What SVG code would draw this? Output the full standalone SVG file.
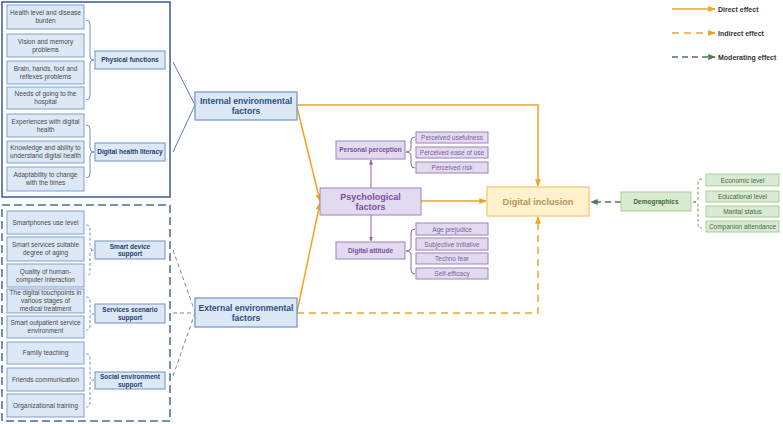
<svg xmlns="http://www.w3.org/2000/svg" width="783" height="424" viewBox="0 0 783 424">
<defs>
<marker id="ao" viewBox="0 0 10 10" refX="9" refY="5" markerWidth="5" markerHeight="5" orient="auto-start-reverse"><path d="M0 1 L10 5 L0 9 z" fill="#f5a21d"/></marker>
<marker id="ap" viewBox="0 0 10 10" refX="9" refY="5" markerWidth="5" markerHeight="5" orient="auto-start-reverse"><path d="M0 1 L10 5 L0 9 z" fill="#8a64aa"/></marker>
<marker id="ag" viewBox="0 0 10 10" refX="9" refY="5" markerWidth="5" markerHeight="5" orient="auto-start-reverse"><path d="M0 1 L10 5 L0 9 z" fill="#4f7a4f"/></marker>
</defs>
<style>
text{font-family:"Liberation Sans",Arial,sans-serif;text-anchor:middle}
.leaf{fill:#dce8f5;stroke:#7f9fcf;stroke-width:1}
.lt{font-size:6.5px;fill:#4a4a4a}
.cat{fill:#dce8f5;stroke:#6f93c8;stroke-width:1}
.ct{font-size:6.5px;font-weight:bold;fill:#1f3f6e}
.main{fill:#dce8f5;stroke:#6f93c8;stroke-width:1.2}
.mt{font-size:8.6px;font-weight:bold;fill:#2f4f7f}
.pbox{fill:#e2daef;stroke:#9c82bf;stroke-width:1}
.pt{font-size:6.5px;font-weight:bold;fill:#7b4fa0}
.pl{font-size:6.5px;fill:#7b5fa0}
.gbox{fill:#d9ead3;stroke:#a9cf96;stroke-width:1}
.gt{font-size:6.5px;fill:#4a6b40}
.brb{fill:none;stroke:#6f93c8;stroke-width:1}
.brbd{fill:none;stroke:#6f93c8;stroke-width:1;stroke-dasharray:3 2}
.brp{fill:none;stroke:#8a64aa;stroke-width:1}
.brg{fill:none;stroke:#6a9a5a;stroke-width:1;stroke-dasharray:3 2}
.or{fill:none;stroke:#f5a21d;stroke-width:1.5}
.ord{fill:none;stroke:#f5a21d;stroke-width:1.5;stroke-dasharray:7 5}
.bl{fill:none;stroke:#5b7bb8;stroke-width:1}
.bld{fill:none;stroke:#6f88b8;stroke-width:1;stroke-dasharray:4 3}
.lg{font-size:7px;font-weight:bold;fill:#333;text-anchor:start}
</style>
<rect x="2" y="2" width="168" height="195" fill="none" stroke="#3b5a9a" stroke-width="1.5"/>
<rect x="2" y="205" width="168" height="216" fill="none" stroke="#4a6aa8" stroke-width="1.5" stroke-dasharray="8 4"/>
<g id="connectors">
<path class="brb" d="M86 20 Q90 20 90 24 L90 56 Q90 60 94 60 Q90 60 90 64 L90 96 Q90 100 86 100"/>
<path class="brb" d="M86 125 Q90 125 90 129 L90 148 Q90 152 94 152 Q90 152 90 156 L90 174 Q90 178 86 178"/>
<path class="brbd" d="M86 225 Q90 225 90 229 L90 246 Q90 250 94 250 Q90 250 90 254 L90 272 Q90 276 86 276"/>
<path class="brbd" d="M86 297 Q90 297 90 301 L90 310 Q90 314 94 314 Q90 314 90 318 L90 326 Q90 330 86 330"/>
<path class="brbd" d="M86 354 Q90 354 90 358 L90 376 Q90 380 94 380 Q90 380 90 384 L90 403 Q90 407 86 407"/>
<path class="bl" d="M173 62 L195 105 M173 152 L195 105"/>
<path class="bld" d="M173 250 L195 312 M173 313 H195 M173 376 L195 313"/>
<path class="or" d="M297 105 H538 V186" marker-end="url(#ao)"/>
<path class="or" d="M297 107 L320 201" marker-end="url(#ao)"/>
<path class="or" d="M297 312 L320 203" marker-end="url(#ao)"/>
<path class="or" d="M421 201 H486" marker-end="url(#ao)"/>
<path class="ord" d="M297 313 H538 V217" marker-end="url(#ao)"/>
<path fill="none" stroke="#4f7a4f" stroke-width="1.5" stroke-dasharray="6 4" d="M621 202 H591" marker-end="url(#ag)"/>
<path class="brp" d="M371 188 V160" marker-end="url(#ap)"/>
<path class="brp" d="M371 215 V241" marker-end="url(#ap)"/>
<path class="brp" d="M415 137 Q411 137 411 141 L411 148 Q411 152 406 152 Q411 152 411 156 L411 164 Q411 168 415 168"/>
<path class="brp" d="M415 229 Q411 229 411 233 L411 247 Q411 251 406 251 Q411 251 411 255 L411 270 Q411 274 415 274"/>
<path class="brg" d="M702 179 Q698 179 698 183 L698 198 Q698 202 692 202 Q698 202 698 206 L698 224 Q698 228 702 228"/>
<path class="or" d="M672 9 H715" marker-end="url(#ao)"/>
<path class="ord" d="M672 33 H715" marker-end="url(#ao)"/>
<path fill="none" stroke="#4f7a4f" stroke-width="1.5" stroke-dasharray="6 4" d="M672 57 H715" marker-end="url(#ag)"/>
</g>
<g id="legend">
<text class="lg" x="718" y="12">Direct effect</text>
<text class="lg" x="718" y="36">Indirect effect</text>
<text class="lg" x="718" y="60">Moderating effect</text>
</g>
<g id="n1"><rect class="leaf" x="7" y="5" width="77" height="24"/><text class="lt" x="45.5" y="15.2">Health level and disease</text><text class="lt" x="45.5" y="23.2">burden</text></g>
<g id="n2"><rect class="leaf" x="7" y="34" width="77" height="23"/><text class="lt" x="45.5" y="43.7">Vision and memory</text><text class="lt" x="45.5" y="51.7">problems</text></g>
<g id="n3"><rect class="leaf" x="7" y="61" width="77" height="23"/><text class="lt" x="45.5" y="70.7">Brain, hands, foot and</text><text class="lt" x="45.5" y="78.7">reflexes problems</text></g>
<g id="n4"><rect class="leaf" x="7" y="87" width="77" height="22"/><text class="lt" x="45.5" y="96.2">Needs of going to the</text><text class="lt" x="45.5" y="104.2">hospital</text></g>
<g id="n5"><rect class="leaf" x="7" y="114" width="77" height="23"/><text class="lt" x="45.5" y="123.7">Experiences with digital</text><text class="lt" x="45.5" y="131.7">health</text></g>
<g id="n6"><rect class="leaf" x="7" y="141" width="77" height="22"/><text class="lt" x="45.5" y="150.2">Knowledge and ability to</text><text class="lt" x="45.5" y="158.2">understand digital health</text></g>
<g id="n7"><rect class="leaf" x="7" y="167" width="77" height="24"/><text class="lt" x="45.5" y="177.2">Adaptability to change</text><text class="lt" x="45.5" y="185.2">with the times</text></g>
<g id="n8"><rect class="leaf" x="7" y="211" width="77" height="23"/><text class="lt" x="45.5" y="224.8">Smartphones use level</text></g>
<g id="n9"><rect class="leaf" x="7" y="237" width="77" height="24"/><text class="lt" x="45.5" y="247.2">Smart services suitable</text><text class="lt" x="45.5" y="255.2">degree of aging</text></g>
<g id="n10"><rect class="leaf" x="7" y="264" width="77" height="23"/><text class="lt" x="45.5" y="273.7">Quality of human-</text><text class="lt" x="45.5" y="281.7">computer interaction</text></g>
<g id="n11"><rect class="leaf" x="7" y="289" width="77" height="24"/><text class="lt" x="45.5" y="295.3">The digital touchpoints in</text><text class="lt" x="45.5" y="303.3">various stages of</text><text class="lt" x="45.5" y="311.3">medical treatment</text></g>
<g id="n12"><rect class="leaf" x="7" y="316" width="77" height="22"/><text class="lt" x="45.5" y="325.2">Smart outpatient service</text><text class="lt" x="45.5" y="333.2">environment</text></g>
<g id="n13"><rect class="leaf" x="7" y="342" width="77" height="22"/><text class="lt" x="45.5" y="355.3">Family teaching</text></g>
<g id="n14"><rect class="leaf" x="7" y="368" width="77" height="23"/><text class="lt" x="45.5" y="381.8">Friends communication</text></g>
<g id="n15"><rect class="leaf" x="7" y="394" width="77" height="23"/><text class="lt" x="45.5" y="407.8">Organizational training</text></g>
<g id="c1"><rect class="cat" x="95" y="51" width="70" height="18"/><text class="ct" x="130" y="62.3">Physical functions</text></g>
<g id="c2"><rect class="cat" x="95" y="143" width="70" height="18"/><text class="ct" x="130" y="154.3">Digital health literacy</text></g>
<g id="c3"><rect class="cat" x="95" y="241" width="70" height="18"/><text class="ct" x="130" y="248.5">Smart device</text><text class="ct" x="130" y="256.3">support</text></g>
<g id="c4"><rect class="cat" x="95" y="304" width="70" height="19"/><text class="ct" x="130" y="311.7">Services scenario</text><text class="ct" x="130" y="319.7">support</text></g>
<g id="c5"><rect class="cat" x="95" y="372" width="70" height="17"/><text class="ct" x="130" y="378.7">Social environment</text><text class="ct" x="130" y="386.7">support</text></g>
<g id="internal"><rect class="main" x="195" y="92" width="102" height="28"/><text class="mt" x="246" y="104.2">Internal environmental</text><text class="mt" x="246" y="114.2">factors</text></g>
<g id="external"><rect class="main" x="195" y="298" width="102" height="29"/><text class="mt" x="246" y="311.2">External environmental</text><text class="mt" x="246" y="321.2">factors</text></g>
<g id="psych"><rect class="pbox" x="320" y="188" width="101" height="27" stroke-width="1.2"/><text x="370.5" y="199.8" font-size="9" font-weight="bold" fill="#7b4fa0">Psychological</text><text x="370.5" y="210.2" font-size="9" font-weight="bold" fill="#7b4fa0">factors</text></g>
<g id="perception"><rect class="pbox" x="336" y="141" width="69" height="18"/><text class="pt" x="370.5" y="152.3">Personal perception</text></g>
<g id="attitude"><rect class="pbox" x="336" y="242" width="69" height="17"/><text class="pt" x="370.5" y="252.8">Digital attitude</text></g>
<g id="p1"><rect class="pbox" x="416" y="132" width="72" height="11"/><text class="pl" x="452" y="140">Perceived usefulness</text></g>
<g id="p2"><rect class="pbox" x="416" y="147" width="72" height="11"/><text class="pl" x="452" y="155">Perceived ease of use</text></g>
<g id="p3"><rect class="pbox" x="416" y="162" width="72" height="11"/><text class="pl" x="452" y="170">Perceived risk</text></g>
<g id="p4"><rect class="pbox" x="416" y="223" width="72" height="12"/><text class="pl" x="452" y="231.5">Age prejudice</text></g>
<g id="p5"><rect class="pbox" x="416" y="238" width="72" height="12"/><text class="pl" x="452" y="246.5">Subjective initiative</text></g>
<g id="p6"><rect class="pbox" x="416" y="253" width="72" height="11"/><text class="pl" x="452" y="261">Techno fear</text></g>
<g id="p7"><rect class="pbox" x="416" y="268" width="72" height="11"/><text class="pl" x="452" y="276">Self-efficacy</text></g>
<g id="inclusion"><rect x="487" y="187" width="102" height="29" fill="#fff2cc" stroke="#f5c46a" stroke-width="1.2"/><text x="538" y="205" font-size="9.2" font-weight="bold" fill="#b8955a">Digital inclusion</text></g>
<g id="demographics"><rect class="gbox" x="621" y="192" width="70" height="19"/><text x="656" y="204.2" font-size="6.5" font-weight="bold" fill="#3d6b35">Demographics</text></g>
<g id="g1"><rect class="gbox" x="706" y="174" width="73" height="12"/><text class="gt" x="742.5" y="182.5">Economic level</text></g>
<g id="g2"><rect class="gbox" x="706" y="191" width="73" height="11"/><text class="gt" x="742.5" y="199">Educational level</text></g>
<g id="g3"><rect class="gbox" x="706" y="206" width="73" height="11"/><text class="gt" x="742.5" y="214">Marital status</text></g>
<g id="g4"><rect class="gbox" x="706" y="221" width="73" height="11"/><text class="gt" x="742.5" y="229">Companion attendance</text></g>
</svg>
